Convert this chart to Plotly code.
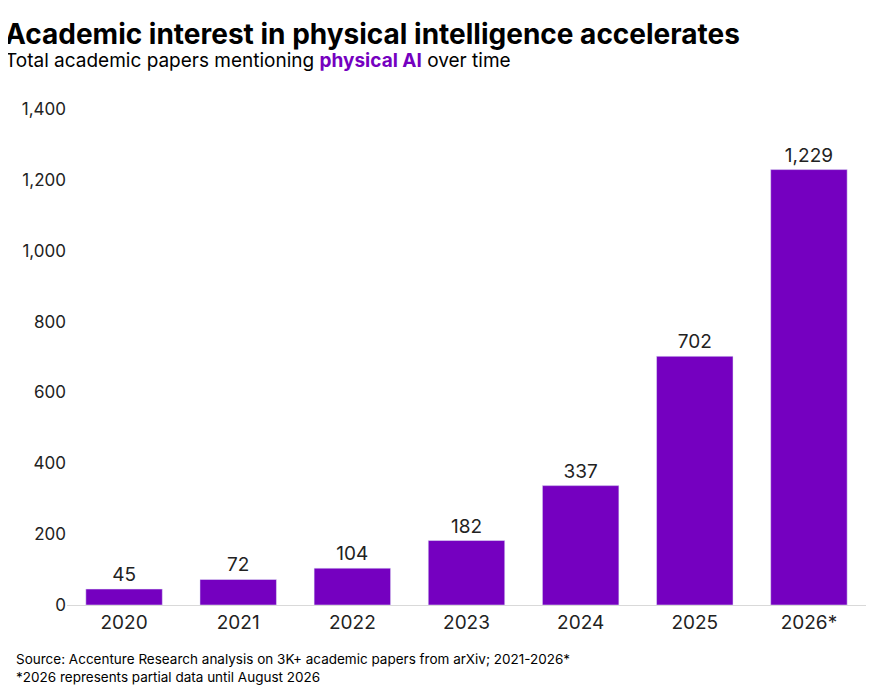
import plotly.graph_objects as go

years = ["2020", "2021", "2022", "2023", "2024", "2025", "2026*"]
papers = [45, 72, 104, 182, 337, 702, 1229]
y_ticks = [0, 200, 400, 600, 800, 1000, 1200, 1400]

purple = "#7500C0"
font = "Inter, Roboto, Arial, sans-serif"

fig = go.Figure(go.Bar(
    x=years, y=papers,
    marker=dict(color=purple),
    text=[f"{v:,}" for v in papers],
    textposition="outside",
    textfont=dict(size=19, color="#222"),
    cliponaxis=False,
    width=0.67,
))

fig.update_layout(
    width=879, height=688,
    margin=dict(l=59, r=21, t=101, b=91),
    plot_bgcolor="white", paper_bgcolor="white",
    font=dict(family=font, color="#222"),
    showlegend=False,
    xaxis=dict(tickfont=dict(size=19), showline=True, linecolor="#d9d9d9",
               linewidth=1, ticks=""),
    yaxis=dict(range=[0, 1400], tickvals=y_ticks, tickformat=",",
               tickfont=dict(size=17), showgrid=False, zeroline=False,
               ticklabelposition="outside left"),
)

fig.add_annotation(
    xref="paper", yref="paper", x=-0.08, y=1.0, yshift=94, xanchor="left", yanchor="top",
    text="<b>Academic interest in physical intelligence accelerates</b>",
    showarrow=False, font=dict(size=28, color="#000", family=font, weight=900),
)
fig.add_annotation(
    xref="paper", yref="paper", x=-0.08, y=1.0, yshift=62, xanchor="left", yanchor="top",
    text=f"Total academic papers mentioning <b><span style='color:{purple}'>physical AI</span></b> over time",
    showarrow=False, font=dict(size=19, color="#000", family=font),
)
fig.add_annotation(
    xref="paper", yref="paper", x=-0.066, y=0, yshift=-44, xanchor="left", yanchor="top",
    text="Source: Accenture Research analysis on 3K+ academic papers from arXiv; 2021-2026*<br>*2026 represents partial data until August 2026",
    showarrow=False, align="left", font=dict(size=13.5, color="#000", family=font),
)

fig.write_html("out.html")
